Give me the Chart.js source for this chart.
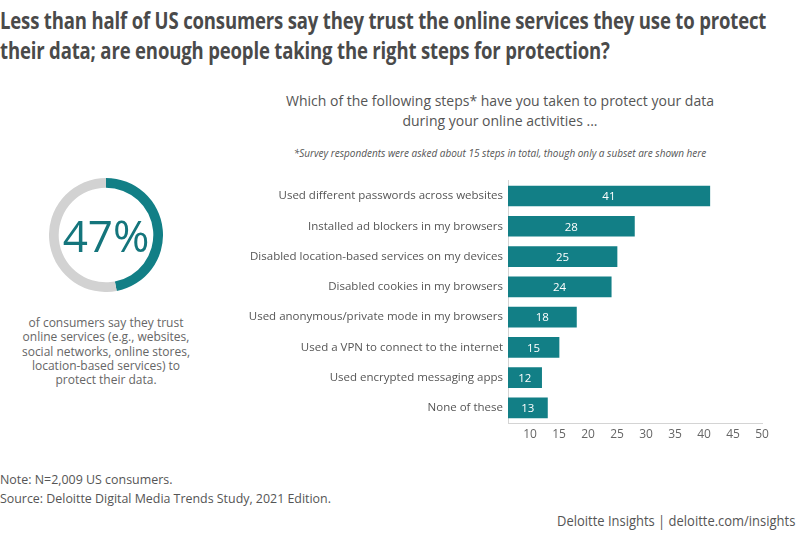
<!DOCTYPE html>
<html>
<head>
<meta charset="utf-8">
<script src="https://cdn.jsdelivr.net/npm/chart.js@4.4.1/dist/chart.umd.min.js"></script>
<style>
  body { margin:0; width:800px; height:541px; background:#fff; position:relative; overflow:hidden; font-family:"Open Sans", sans-serif; }
  .abs { position:absolute; white-space:nowrap; }
  .tline { left:0; font-family:"Open Sans", sans-serif; font-weight:bold; font-size:24px; line-height:30px; color:#4a4a4a; transform-origin:0 0; letter-spacing:-0.2px; }
  #question { left:240px; top:91px; width:520px; text-align:center; font-size:14px; line-height:20px; color:#555; }
  #footnote { left:240px; top:146px; width:520px; text-align:center; font-size:10px; font-style:italic; color:#555; }
  #pct { left:46px; top:205px; width:120px; text-align:center; font-size:44px; line-height:60px; color:#14757c; }
  #caption { left:20px; top:316px; width:172px; text-align:center; font-size:12px; line-height:14.3px; color:#666; white-space:normal; }
  .foot { font-family:"Open Sans", sans-serif; font-size:13px; color:#555; transform-origin:0 0; }
</style>
</head>
<body>
<div class="abs tline fit" data-w="766" style="top:5px;">Less than half of US consumers say they trust the online services they use to protect</div>
<div class="abs tline fit2" style="top:35px;">their data; are enough people taking the right steps for protection?</div>
<div id="question" class="abs">Which of the following steps* have you taken to protect your data<br>during your online activities ...</div>
<div id="footnote" class="abs">*Survey respondents were asked about 15 steps in total, though only a subset are shown here</div>

<div class="abs" style="left:49px;top:178px;width:114px;height:114px;"><canvas id="donut"></canvas></div>
<div id="pct" class="abs">47%</div>
<div id="caption" class="abs">of consumers say they trust online services (e.g., websites, social networks, online stores, location-based services) to protect their data.</div>

<div class="abs" style="left:230px;top:169px;width:545px;height:276px;"><canvas id="bars"></canvas></div>

<div class="abs foot fit" data-w="172" style="left:0;top:470px;">Note: N=2,009 US consumers.</div>
<div class="abs foot fit" data-w="331" style="left:0;top:489px;">Source: Deloitte Digital Media Trends Study, 2021 Edition.</div>
<div class="abs foot fit" data-w="238" id="brand" style="left:557px;top:511px;font-size:14px;">Deloitte Insights | deloitte.com/insights</div>

<script>
// data
var steps = [
  'Used different passwords across websites',
  'Installed ad blockers in my browsers',
  'Disabled location-based services on my devices',
  'Disabled cookies in my browsers',
  'Used anonymous/private mode in my browsers',
  'Used a VPN to connect to the internet',
  'Used encrypted messaging apps',
  'None of these'
];
var shares = [41, 28, 25, 24, 18, 15, 12, 13];
var xTicks = [10, 15, 20, 25, 30, 35, 40, 45, 50];

var trustLabels = ['Trust', 'Do not trust'];
var trustValues = [47, 53];

var TEAL = '#127f86';
var FONT = '"Open Sans", sans-serif';

// squeeze condensed-looking text lines to their reference widths
var titleScale = 1;
document.querySelectorAll('.fit').forEach(function(el) {
  var s = parseFloat(el.dataset.w) / el.scrollWidth;
  el.style.transform = 'scaleX(' + s + ')';
  if (el.classList.contains('tline')) titleScale = s;
});
document.querySelectorAll('.fit2').forEach(function(el) {
  el.style.transform = 'scaleX(' + titleScale + ')';
});

// donut
new Chart(document.getElementById('donut'), {
  type: 'doughnut',
  data: {
    labels: trustLabels,
    datasets: [{ data: trustValues, backgroundColor: [TEAL, '#d2d2d2'], borderWidth: 0 }]
  },
  options: {
    responsive: true,
    maintainAspectRatio: false,
    animation: false,
    cutout: '83%',
    plugins: { legend: { display: false }, tooltip: { enabled: false } }
  }
});

// value labels inside bars
var barValues = {
  id: 'barValues',
  afterDatasetsDraw: function(chart) {
    var ctx = chart.ctx;
    var meta = chart.getDatasetMeta(0);
    var left = chart.chartArea.left;
    ctx.save();
    ctx.font = '11.5px ' + FONT;
    ctx.fillStyle = '#fff';
    ctx.textAlign = 'center';
    ctx.textBaseline = 'middle';
    meta.data.forEach(function(bar, i) {
      var start = Math.max(bar.base, left);
      ctx.fillText(shares[i], (bar.x + start) / 2, bar.y + 1);
    });
    ctx.restore();
  }
};

new Chart(document.getElementById('bars'), {
  type: 'bar',
  plugins: [barValues],
  data: {
    labels: steps,
    datasets: [{ data: shares, backgroundColor: TEAL, barThickness: 20 }]
  },
  options: {
    indexAxis: 'y',
    responsive: true,
    maintainAspectRatio: false,
    animation: false,
    layout: { padding: { top: 0, right: 13, bottom: 0, left: 0 } },
    plugins: { legend: { display: false }, tooltip: { enabled: false } },
    scales: {
      x: {
        min: 6.2,
        max: 50,
        afterBuildTicks: function(scale) {
          scale.ticks = xTicks.map(function(v) { return { value: v }; });
        },
        afterFit: function(scale) { scale.height = 22; },
        grid: { display: false, drawTicks: false },
        border: { display: true, color: '#d4d4d4', width: 1 },
        ticks: { color: '#666', font: { size: 12, family: FONT }, padding: 4, maxRotation: 0 }
      },
      y: {
        afterFit: function(scale) { scale.width = 278; },
        grid: { display: false, drawTicks: false },
        border: { display: true, color: '#d4d4d4', width: 1 },
        ticks: { color: '#555', font: { size: 11.5, family: FONT }, padding: 5 }
      }
    }
  }
});
</script>
</body>
</html>
